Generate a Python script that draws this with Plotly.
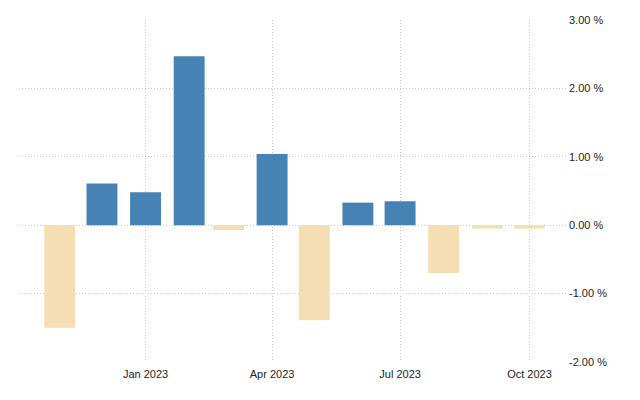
import plotly.graph_objects as go

months = ["2022-11-01", "2022-12-01", "2023-01-01", "2023-02-01", "2023-03-01", "2023-04-01",
          "2023-05-01", "2023-06-01", "2023-07-01", "2023-08-01", "2023-09-01", "2023-10-01"]
values = [-1.50, 0.61, 0.48, 2.47, -0.07, 1.04, -1.39, 0.33, 0.35, -0.70, -0.05, -0.05]
y_ticks = [-2, -1, 0, 1, 2, 3]
y_tick_labels = ["-2.00 %", "-1.00 %", "0.00 %", "1.00 %", "2.00 %", "3.00 %"]

pos_color = "#4682B4"
neg_color = "#F5DEB3"
colors = [pos_color if v >= 0 else neg_color for v in values]

fig = go.Figure(go.Bar(
    x=months, y=values,
    marker=dict(color=colors, line=dict(width=0)),
    width=22 * 86400000,
    hoverinfo="x+y",
))

grid = dict(showgrid=True, gridcolor="#c8c8c8", griddash="1px,2px", gridwidth=1)

fig.update_layout(
    width=632, height=392,
    margin=dict(l=11, r=74, t=12, b=38),
    paper_bgcolor="white", plot_bgcolor="white",
    showlegend=False,
    font=dict(family="Liberation Sans, Arial, sans-serif", size=11, color="#222"),
    xaxis=dict(
        type="date",
        range=["2022-10-03", "2023-10-27"],
        tick0="2023-01-01", dtick="M3",
        tickformat="%b %Y",
        zeroline=False, showline=False,
        ticks="", ticklabelstandoff=4,
        automargin=False,
        **grid,
    ),
    yaxis=dict(
        side="right",
        range=[-2, 3],
        tickvals=y_ticks, ticktext=y_tick_labels,
        zeroline=False, showline=False,
        ticks="", ticklabelstandoff=2,
        automargin=False,
        **grid,
    ),
)

fig.write_html("out.html")
